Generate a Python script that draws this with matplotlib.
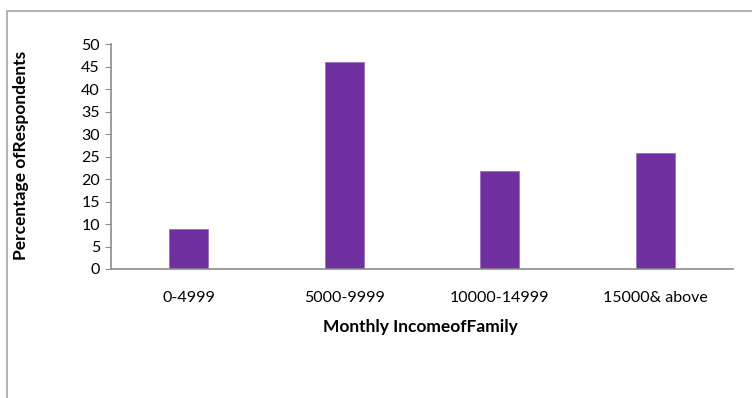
import matplotlib
matplotlib.use("Agg")
import matplotlib.pyplot as plt
from matplotlib.patches import Rectangle

# income groups and share of respondents (%)
categories = ["0-4999", "5000-9999", "10000-14999", "15000& above"]
percent = [8.9, 46.1, 21.7, 25.9]

plt.rcParams['font.family'] = ['Lato', 'DejaVu Sans']

fig = plt.figure(figsize=(7.52, 3.98), dpi=100)
ax = fig.add_axes([111/752, 1-269/398, 622/752, 224.7/398])

x = list(range(len(categories)))
ax.bar(x, percent, width=0.25, color="#7030A0", edgecolor="#9a70c0", linewidth=0.6)

ax.set_xlim(-0.5, len(categories)-0.5)
ax.set_ylim(0, 50)
ax.set_yticks(range(0, 51, 5))
ax.set_xticks(x)
ax.set_xticklabels(categories)

for s in ["top", "right"]:
    ax.spines[s].set_visible(False)
for s in ["left", "bottom"]:
    ax.spines[s].set_color("#8c8c8c")
    ax.spines[s].set_linewidth(1.2)

ax.tick_params(axis="y", length=4, color="#8c8c8c", labelsize=11.5, pad=4)
ax.tick_params(axis="x", length=0, labelsize=11.5, pad=16)

ax.set_xlabel("Monthly IncomeofFamily", fontsize=12.5, fontweight="bold", va="center")
ax.xaxis.set_label_coords(0.497, -0.258)
ax.set_ylabel("Percentage ofRespondents", fontsize=12.5, fontweight="bold", va="center")
ax.yaxis.set_label_coords(-0.1447, 0.507)

# chart area frame
fig.patches.append(Rectangle((7/752, -0.1), 1.2, 1 - 11/398 + 0.1, transform=fig.transFigure,
                             fill=False, edgecolor="#a6a6a6", linewidth=1.2))

fig.savefig("out.png", dpi=100)
